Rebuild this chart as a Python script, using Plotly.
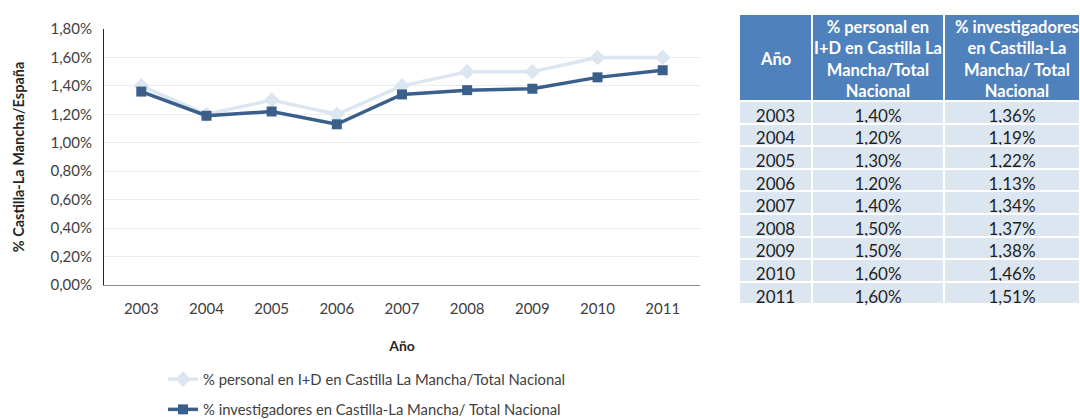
import plotly.graph_objects as go

years = ["2003", "2004", "2005", "2006", "2007", "2008", "2009", "2010", "2011"]
personal = [0.0140, 0.0120, 0.0130, 0.0120, 0.0140, 0.0150, 0.0150, 0.0160, 0.0160]
investigadores = [0.0136, 0.0119, 0.0122, 0.0113, 0.0134, 0.0137, 0.0138, 0.0146, 0.0151]
personal_txt = ["1,40%", "1,20%", "1,30%", "1,20%", "1,40%", "1,50%", "1,50%", "1,60%", "1,60%"]
investigadores_txt = ["1,36%", "1,19%", "1,22%", "1,13%", "1,34%", "1,37%", "1,38%", "1,46%", "1,51%"]
name1 = "% personal en I+D en Castilla La Mancha/Total Nacional"
name2 = "% investigadores en Castilla-La Mancha/ Total Nacional"
headers = ["Año", "% personal en<br>I+D en Castilla La<br>Mancha/Total<br>Nacional",
           "% investigadores<br>en Castilla-La<br>Mancha/ Total<br>Nacional"]

FONT = "Lato, 'Open Sans', sans-serif"
light = "#DCE6F1"
dark = "#3A5F8B"
W, H = 1080, 419

# table geometry (pixels)
tab_left = 739
col_px = [73, 132, 146]
head_top, head_h, row_h = 14, 87, 22.6

fig = go.Figure()
fig.add_trace(go.Scatter(x=years, y=personal, name=name1, mode="lines+markers",
                         line=dict(color=light, width=3.5),
                         marker=dict(symbol="diamond", size=12, color=light),
                         legendgroup="a"))
fig.add_trace(go.Scatter(x=years, y=investigadores, name=name2, mode="lines+markers",
                         line=dict(color=dark, width=3.5),
                         marker=dict(symbol="square", size=10, color=dark),
                         legendgroup="b"))

fig.add_trace(go.Table(
    domain=dict(x=[tab_left / W, 1.0], y=[0.0, 1 - head_top / H]),
    columnwidth=[col_px[0], col_px[1], W - tab_left - col_px[0] - col_px[1]],
    header=dict(values=["", "", ""], fill_color="#4F81BD", line=dict(color="white", width=2),
                font=dict(family=FONT, size=16, color="white"), align="center", height=head_h),
    cells=dict(values=[years, personal_txt, investigadores_txt], fill_color=light,
               line=dict(color="white", width=2),
               font=dict(family=FONT, size=17, color="#1f1f1f"), align="center", height=row_h),
))

# header texts, centred in each header cell
x0 = tab_left
for txt, w in zip(headers, col_px):
    fig.add_annotation(x=(x0 + w / 2) / W, y=1 - (head_top + 45) / H, xref="paper", yref="paper",
                       text="<b>" + txt + "</b>", showarrow=False, align="center",
                       xanchor="center", yanchor="middle",
                       font=dict(family=FONT, size=16.5, color="white"))
    x0 += w

fig.update_layout(
    width=W, height=H,
    margin=dict(l=0, r=0, t=0, b=0, autoexpand=False),
    paper_bgcolor="white", plot_bgcolor="white",
    separators=", ",
    font=dict(family=FONT, size=14, color="#595959"),
    showlegend=True,
    legend=dict(x=163 / W, xanchor="left", y=1 - 363 / H, yanchor="top",
                traceorder="grouped", tracegroupgap=8,
                font=dict(family=FONT, size=14.8, color="#404040"), bgcolor="rgba(0,0,0,0)"),
    xaxis=dict(domain=[104 / W, 700 / W], showline=True, linecolor="#8C8C8C", linewidth=1,
               showgrid=False, ticks="", tickfont=dict(size=15, color="#404040"),
               automargin=False, ticklabelstandoff=10,
               title=dict(text="<b>Año</b>", font=dict(size=14, color="#262626"), standoff=25)),
    yaxis=dict(domain=[1 - 285 / H, 1 - 29 / H], range=[0, 0.018], dtick=0.002, tickformat=".2%",
               showline=True, linecolor="#262626", linewidth=1, automargin=False,
               gridcolor="#EDEDED", gridwidth=1, zeroline=False, ticks="",
               tickfont=dict(size=15, color="#404040"), ticklabelstandoff=8,
               title=dict(text="<b>% Castilla-La Mancha/España</b>", font=dict(size=14.5, color="#262626"),
                          standoff=22)),
)

fig.write_html("out.html", config={"displayModeBar": False},
               post_script="document.body.style.margin='0px';")
